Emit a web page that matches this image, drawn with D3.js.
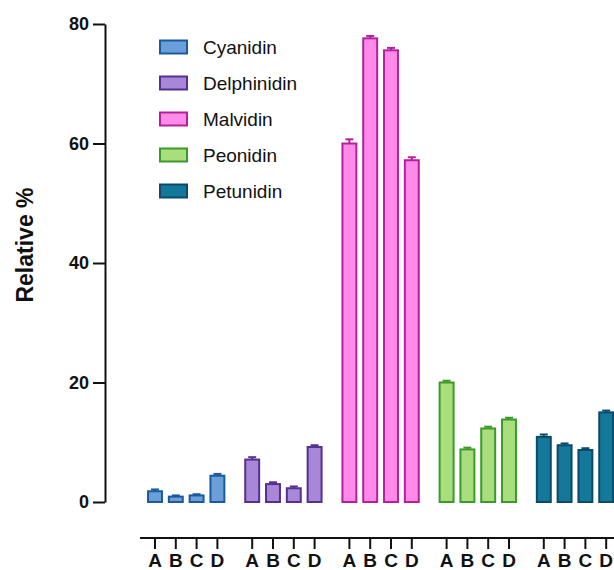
<!DOCTYPE html>
<html>
<head>
<meta charset="utf-8">
<script src="https://cdn.jsdelivr.net/npm/d3@7"></script>
<style>
  body { margin: 0; background: #fff; }
  text { font-family: "Liberation Sans", Arial, sans-serif; }
</style>
</head>
<body>
<div id="chart"></div>
<script>
// compounds along the x-axis, samples inside each group
var compounds = ["Cyanidin", "Delphinidin", "Malvidin", "Peonidin", "Petunidin"];
var samples = ["A", "B", "C", "D"];

// mean values (relative %) per compound, in sample order A..D
var cyanidin    = [1.8, 0.9, 1.1, 4.4];
var delphinidin = [7.1, 3.0, 2.3, 9.2];
var malvidin    = [60.0, 77.6, 75.6, 57.2];
var peonidin    = [20.0, 8.8, 12.3, 13.8];
var petunidin   = [10.9, 9.5, 8.7, 15.0];

// upper error (sd) per compound
var cyanidinErr    = [0.3, 0.2, 0.2, 0.3];
var delphinidinErr = [0.4, 0.3, 0.3, 0.3];
var malvidinErr    = [0.7, 0.4, 0.4, 0.5];
var peonidinErr    = [0.3, 0.3, 0.3, 0.3];
var petunidinErr   = [0.4, 0.3, 0.3, 0.3];

var yTicks = [0, 20, 40, 60, 80];

var fills   = ["#6b9fd9", "#a887d8", "#ff8aea", "#a8df7c", "#13789a"];
var strokes = ["#1c5a9c", "#55308f", "#b3219a", "#3c9a2a", "#0b4a68"];

var values = [cyanidin, delphinidin, malvidin, peonidin, petunidin];
var errors = [cyanidinErr, delphinidinErr, malvidinErr, peonidinErr, petunidinErr];

var rows = [];
compounds.forEach(function(c, i) {
  samples.forEach(function(s, j) {
    rows.push({ compound: c, sample: s, value: values[i][j], err: errors[i][j], idx: i });
  });
});

var width = 614, height = 570;

var svg = d3.select("#chart")
  .append("svg")
  .attr("width", width)
  .attr("height", height);

var yScale = d3.scaleLinear().domain([0, 80]).range([502, 24]);

var x0 = d3.scaleBand().domain(compounds).range([144.6, 616.6]).paddingInner(0.144).paddingOuter(0);
var x1 = d3.scaleBand().domain(samples).range([0, x0.bandwidth()]).paddingInner(0.33).paddingOuter(0.165);

var colourFill = d3.scaleOrdinal().domain(compounds).range(fills);
var colourStroke = d3.scaleOrdinal().domain(compounds).range(strokes);

// bars
var bars = svg.append("g");
bars.selectAll("rect")
  .data(rows)
  .enter().append("rect")
  .attr("x", function(d) { return x0(d.compound) + x1(d.sample); })
  .attr("y", function(d) { return yScale(d.value); })
  .attr("width", x1.bandwidth())
  .attr("height", function(d) { return yScale(0) - yScale(d.value); })
  .attr("fill", function(d) { return colourFill(d.compound); })
  .attr("stroke", function(d) { return colourStroke(d.compound); })
  .attr("stroke-width", 2);

// error bars (upper only)
var errG = svg.append("g");
errG.selectAll("line.stem")
  .data(rows)
  .enter().append("line")
  .attr("class", "stem")
  .attr("x1", function(d) { return x0(d.compound) + x1(d.sample) + x1.bandwidth() / 2; })
  .attr("x2", function(d) { return x0(d.compound) + x1(d.sample) + x1.bandwidth() / 2; })
  .attr("y1", function(d) { return yScale(d.value); })
  .attr("y2", function(d) { return yScale(d.value + d.err); })
  .attr("stroke", function(d) { return colourStroke(d.compound); })
  .attr("stroke-width", 2);
errG.selectAll("line.cap")
  .data(rows)
  .enter().append("line")
  .attr("class", "cap")
  .attr("x1", function(d) { return x0(d.compound) + x1(d.sample) + x1.bandwidth() / 2 - 4; })
  .attr("x2", function(d) { return x0(d.compound) + x1(d.sample) + x1.bandwidth() / 2 + 4; })
  .attr("y1", function(d) { return yScale(d.value + d.err); })
  .attr("y2", function(d) { return yScale(d.value + d.err); })
  .attr("stroke", function(d) { return colourStroke(d.compound); })
  .attr("stroke-width", 2);

// y axis
var yAxis = d3.axisLeft(yScale).tickValues(yTicks).tickSize(12).tickSizeOuter(0).tickPadding(4);
var yG = svg.append("g")
  .attr("transform", "translate(105,0)")
  .call(yAxis);
yG.select(".domain").attr("stroke", "#111").attr("stroke-width", 2);
yG.selectAll(".tick line").attr("stroke", "#111").attr("stroke-width", 2);
yG.selectAll("text")
  .style("font-family", "'Liberation Sans', Arial, sans-serif")
  .style("font-size", "18px")
  .style("font-weight", "bold")
  .attr("fill", "#111");

// x axis (one tick per sample inside every compound group)
var xTickData = rows.map(function(d) {
  return { x: x0(d.compound) + x1(d.sample) + x1.bandwidth() / 2, label: d.sample };
});
var xG = svg.append("g");
xG.append("line")
  .attr("x1", 140).attr("x2", width)
  .attr("y1", 538).attr("y2", 538)
  .attr("stroke", "#111").attr("stroke-width", 2);
xG.selectAll("line.tick")
  .data(xTickData)
  .enter().append("line")
  .attr("class", "tick")
  .attr("x1", function(d) { return d.x; })
  .attr("x2", function(d) { return d.x; })
  .attr("y1", 538).attr("y2", 549)
  .attr("stroke", "#111").attr("stroke-width", 2);
xG.selectAll("text")
  .data(xTickData)
  .enter().append("text")
  .attr("x", function(d) { return d.x; })
  .attr("y", 567)
  .attr("text-anchor", "middle")
  .style("font-size", "19px")
  .style("font-weight", "bold")
  .attr("fill", "#111")
  .text(function(d) { return d.label; });

// y axis title
svg.append("text")
  .attr("transform", "translate(33,245) rotate(-90)")
  .attr("text-anchor", "middle")
  .style("font-size", "23px")
  .style("font-weight", "bold")
  .attr("fill", "#111")
  .text("Relative %");

// legend
var legend = svg.append("g").attr("transform", "translate(160,47)");
var item = legend.selectAll("g")
  .data(compounds)
  .enter().append("g")
  .attr("transform", function(d, i) { return "translate(0," + (i * 36) + ")"; });
item.append("rect")
  .attr("x", 0).attr("y", -6.5)
  .attr("width", 27).attr("height", 13)
  .attr("fill", function(d) { return colourFill(d); })
  .attr("stroke", function(d) { return colourStroke(d); })
  .attr("stroke-width", 2);
item.append("text")
  .attr("x", 43)
  .attr("y", 0)
  .attr("dy", "0.35em")
  .style("font-size", "19px")
  .attr("fill", "#111")
  .text(function(d) { return d; });
</script>
</body>
</html>
